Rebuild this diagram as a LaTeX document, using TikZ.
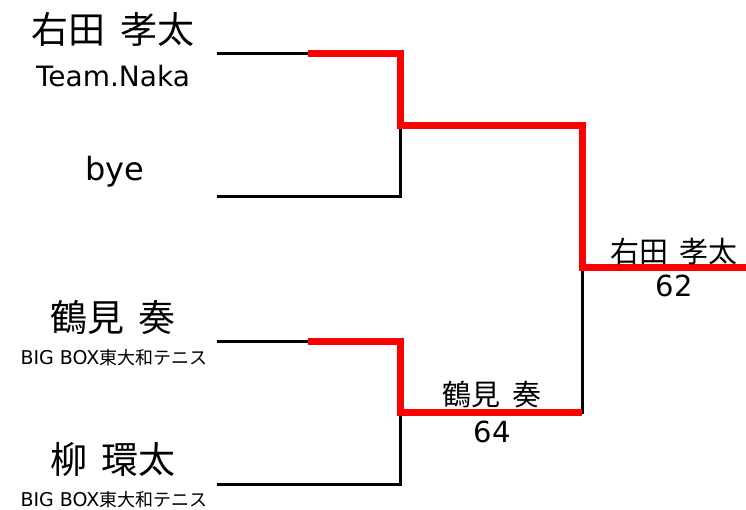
\documentclass[tikz,border=0pt]{standalone}
\usepackage{fontspec}
\setmainfont[WordSpace=1.7]{Noto Sans CJK JP}
\newfontfamily\lat{DejaVu Sans}
\usetikzlibrary{positioning}
\tikzset{
    loser/.style = {line width=3pt, black},
    winner/.style = {line width=7pt, red, line join=miter},
    player/.style = {inner sep=0pt, font=\fontsize{37}{40}\selectfont},
    club/.style = {inner sep=0pt, anchor=base, font=\fontsize{18}{20}\selectfont},
    result/.style = {inner sep=0pt, font=\fontsize{29}{31}\selectfont},
    score/.style = {inner sep=0pt, anchor=base, font=\lat\fontsize{29}{31}\selectfont},
}
\begin{document}
\begin{tikzpicture}[x=1pt,y=-1pt]
\useasboundingbox (0,0) rectangle (746,510);

% entries
\coordinate (e1) at (217,54);
\coordinate (e2) at (217,197);
\coordinate (e3) at (217,341);
\coordinate (e4) at (217,484);
\coordinate (r1a) at (400,54);
\coordinate (r1b) at (400,341);
\coordinate (j1) at (400,126);
\coordinate (j2) at (400,412);
\coordinate (f) at (582,126);
\coordinate (fj) at (582,268);
\coordinate (champ) at (746,268);

\node[player] (n1) at (113,29) {右田 孝太};
\node[club,font=\lat\fontsize{28}{30}\selectfont] (c1) at (113,87) {Team.Naka};
\node[player,anchor=base,font=\lat\fontsize{32}{34}\selectfont] (n2) at (115,181) {bye};
\node[player] (n3) at (113,317) {鶴見 奏};
\node[club] (c3) at (114,364) {{\lat\fontsize{19}{20}\selectfont BIG BOX}東大和テニス};
\node[player] (n4) at (113,459) {柳 環太};
\node[club] (c4) at (114,506) {{\lat\fontsize{19}{20}\selectfont BIG BOX}東大和テニス};

% bracket
\draw[loser] (e1) -- (r1a) |- (e2);
\draw[loser] (e3) -- (r1b) |- (e4);
\draw[loser] (f) -- (582,412) -- (j2);

\draw[winner] (308,54) -- (r1a) -- (j1) -- (f) -- (fj) -- (champ);
\draw[winner] (308,341) -- (r1b) -- (j2) -- (582,412);

% results
\node[result] (w2) at (492,395) {鶴見 奏};
\node[score] (s2) at (492,442) {64};
\node[result] (w1) at (674,252) {右田 孝太};
\node[score] (s1) at (674,297) {62};
\end{tikzpicture}
\end{document}
